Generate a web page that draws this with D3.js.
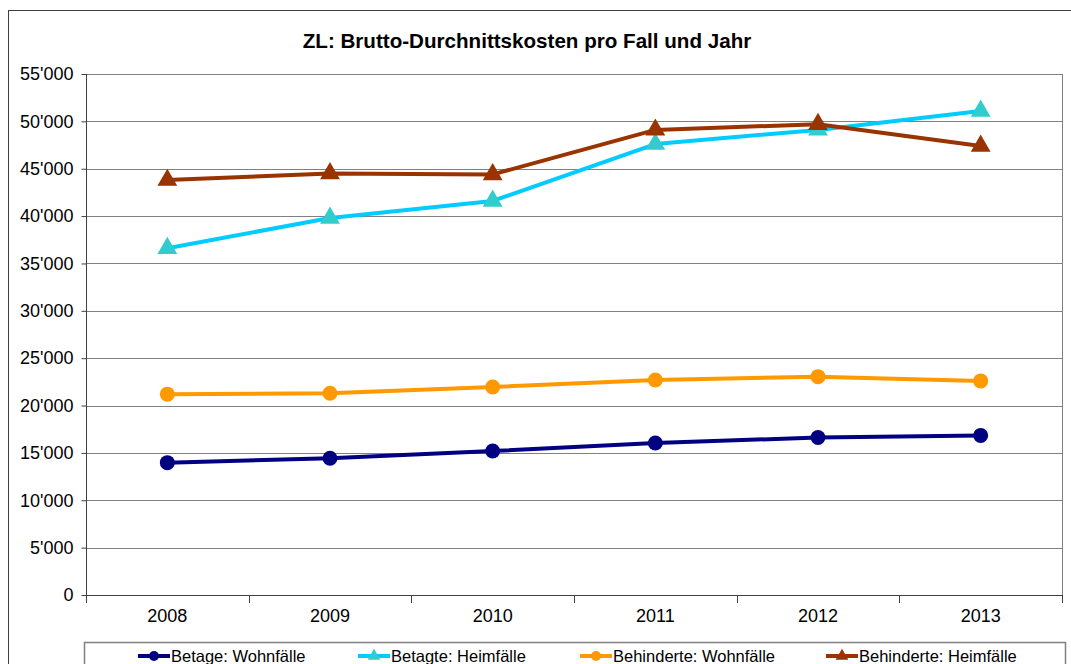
<!DOCTYPE html>
<html><head><meta charset="utf-8">
<script src="https://cdn.jsdelivr.net/npm/d3@7"></script>
<style>body{margin:0;background:#fff}svg{display:block}text{font-family:"Liberation Sans",Arial,sans-serif}</style>
</head><body><svg id="c" width="1071" height="664"></svg>
<script>
const years = ["2008","2009","2010","2011","2012","2013"];
const betagtWohn = [13970, 14430, 15200, 16050, 16620, 16850];
const betagtHeim = [36600, 39800, 41600, 47600, 49100, 51100];
const behindWohn = [21200, 21300, 21960, 22700, 23050, 22600];
const behindHeim = [43800, 44500, 44400, 49100, 49700, 47400];
const yTicks = [0,5000,10000,15000,20000,25000,30000,35000,40000,45000,50000,55000];
const seriesNames = ["Betage: Wohnfälle","Betagte: Heimfälle","Behinderte: Wohnfälle","Behinderte: Heimfälle"];

const series = [
  {name: seriesNames[0], values: betagtWohn, line:"#000080", fill:"#000080", shape:"circle"},
  {name: seriesNames[1], values: betagtHeim, line:"#00CCFF", fill:"#33CCCC", shape:"triangle"},
  {name: seriesNames[2], values: behindWohn, line:"#FF9900", fill:"#FF9900", shape:"circle"},
  {name: seriesNames[3], values: behindHeim, line:"#993300", fill:"#993300", shape:"triangle"}
];

const svg = d3.select("#c");
svg.append("rect").attr("x",8.5).attr("y",10.5).attr("width",1080).attr("height",700)
  .attr("fill","#fff").attr("stroke","#404040").attr("stroke-width",1);

const L=86, R=1062, T=74, B=595;
const x = d3.scaleBand().domain(years).range([L,R]);
const y = d3.scaleLinear().domain([0,55000]).range([B,T]);
const fmt = v => v===0 ? "0" : d3.format(",")(v).replace(/,/g,"'");

svg.append("g").selectAll("line").data(yTicks).join("line")
  .attr("x1",L).attr("x2",R).attr("y1",d=>Math.round(y(d))+0.5).attr("y2",d=>Math.round(y(d))+0.5)
  .attr("stroke","#808080").attr("stroke-width",1);

svg.append("line").attr("x1",R+0.5).attr("x2",R+0.5).attr("y1",T).attr("y2",B).attr("stroke","#808080");

const yAx = svg.append("g").attr("transform",`translate(${L+0.5},0)`)
  .call(d3.axisLeft(y).tickValues(yTicks).tickFormat(fmt).tickSize(5).tickPadding(8));
yAx.selectAll("path,line").attr("stroke","#404040");
yAx.selectAll("text").attr("font-size",18).attr("fill","#000").attr("font-family","Liberation Sans, Arial, sans-serif");
yAx.select(".domain").attr("d",`M0,${T}V${B+0.5}`);

const xAx = svg.append("g").attr("transform",`translate(0,${Math.round(B)+0.5})`)
  .call(d3.axisBottom(x).tickSize(0).tickPadding(14));
xAx.selectAll("text").attr("font-size",18).attr("fill","#000").attr("font-family","Liberation Sans, Arial, sans-serif");
xAx.select(".domain").attr("stroke","#404040").attr("d",`M${L},0H${R}`);
svg.append("g").selectAll("line").data(d3.range(years.length+1)).join("line")
  .attr("x1",i=>Math.round(L+i*x.step())+0.5).attr("x2",i=>Math.round(L+i*x.step())+0.5)
  .attr("y1",B).attr("y2",B+8).attr("stroke","#404040");

const cx = d => x(d)+x.bandwidth()/2;
const lineGen = d3.line().x((d,i)=>cx(years[i])).y(d=>y(d));
const tri = d3.symbol().type(d3.symbolTriangle).size(170);

series.forEach(s=>{
  svg.append("path").datum(s.values).attr("d",lineGen).attr("fill","none")
    .attr("stroke",s.line).attr("stroke-width",4).attr("stroke-linejoin","round");
});
series.forEach(s=>{
  const g = svg.append("g");
  s.values.forEach((v,i)=>{
    if(s.shape==="circle"){
      g.append("circle").attr("cx",cx(years[i])).attr("cy",y(v)).attr("r",7.5).attr("fill",s.fill);
    } else {
      g.append("path").attr("d",tri).attr("transform",`translate(${cx(years[i])},${y(v)})`).attr("fill",s.fill);
    }
  });
});

svg.append("text").attr("x",527).attr("y",48).attr("text-anchor","middle")
  .attr("font-size",20.6).attr("font-weight","bold").text("ZL: Brutto-Durchnittskosten pro Fall und Jahr");

svg.append("rect").attr("x",84.5).attr("y",642.5).attr("width",981).attr("height",40)
  .attr("fill","#fff").attr("stroke","#808080").attr("stroke-width",1.5);
const legX = [138, 358, 580, 826];
series.forEach((s,i)=>{
  const g = svg.append("g").attr("transform",`translate(${legX[i]},656)`);
  g.append("line").attr("x1",0).attr("x2",32).attr("y1",0).attr("y2",0).attr("stroke",s.line).attr("stroke-width",4);
  if(s.shape==="circle") g.append("circle").attr("cx",16).attr("cy",0).attr("r",5).attr("fill",s.fill);
  else g.append("path").attr("d",d3.symbol().type(d3.symbolTriangle).size(70)).attr("transform","translate(16,0)").attr("fill",s.fill);
  g.append("text").attr("x",33).attr("y",6).attr("font-size",16.5).attr("fill","#000").text(s.name);
});
</script></body></html>
